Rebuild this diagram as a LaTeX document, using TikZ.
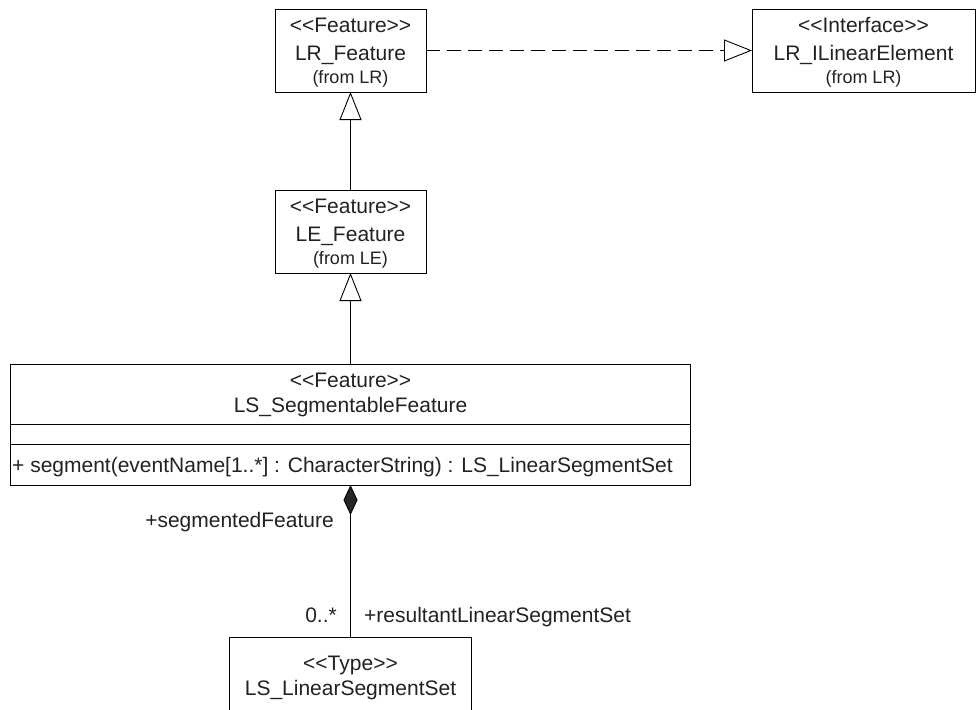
\documentclass[tikz,border=0pt]{standalone}
\usepackage{fontspec}
\setmainfont{Liberation Sans}
\usetikzlibrary{arrows.meta}
\definecolor{txt}{HTML}{222222}
\newcommand{\ster}[1]{<\kern0pt<#1>\kern0pt>}
\begin{document}
\begin{tikzpicture}[x=1pt,y=-1pt,
  umlbox/.style={draw=black, line width=0.9pt, inner sep=0pt, outer sep=0pt, rectangle},
  lbl/.style={font=\fontsize{21}{25}\selectfont, text=txt, inner sep=0pt, anchor=base},
  smalllbl/.style={font=\fontsize{18}{21}\selectfont, text=txt, inner sep=0pt, anchor=base},
  conn/.style={line width=0.9pt, draw=black},
  inherit/.style={conn, -{Triangle[open, length=28pt, width=22pt, line width=0.9pt]}},
  realize/.style={inherit, dash pattern=on 14pt off 7pt},
  compose/.style={conn, {Diamond[length=30pt, width=14pt, fill=black!85]}-}
]
\useasboundingbox (0,0) rectangle (976,709);

% LR_Feature
\node[umlbox, minimum width=151pt, minimum height=83pt] (lrf) at (350.5,50.5) {};
\node[lbl] (lrf1) at (350.5,32.5) {\ster{Feature}};
\node[lbl] (lrf2) at (350.5,60.5) {LR\_Feature};
\node[smalllbl] (lrf3) at (350.5,83.5) {(from LR)};

% LR_ILinearElement
\node[umlbox, minimum width=223pt, minimum height=83pt] (ile) at (863.5,50.5) {};
\node[lbl] (ile1) at (863.5,32.5) {\ster{Interface}};
\node[lbl] (ile2) at (863.5,60.5) {LR\_ILinearElement};
\node[smalllbl] (ile3) at (863.5,83.5) {(from LR)};

% LE_Feature
\node[umlbox, minimum width=151pt, minimum height=83pt] (lef) at (350.5,231.5) {};
\node[lbl] (lef1) at (350.5,213.5) {\ster{Feature}};
\node[lbl] (lef2) at (350.5,241.5) {LE\_Feature};
\node[smalllbl] (lef3) at (350.5,264.5) {(from LE)};

% LS_SegmentableFeature
\node[umlbox, minimum width=680pt, minimum height=121pt] (seg) at (350.5,424.5) {};
\draw[line width=0.9pt] (seg.west |- 0,424) -- (seg.east |- 0,424);
\draw[line width=0.9pt] (seg.west |- 0,444) -- (seg.east |- 0,444);
\node[lbl] (seg1) at (350.5,387.5) {\ster{Feature}};
\node[lbl] (seg2) at (350.5,412.5) {LS\_SegmentableFeature};
\node[lbl, anchor=base west] (seg3) at (12,472.5) {+ segment(eventName[1..*] : CharacterString) : LS\_LinearSegmentSet};

% LS_LinearSegmentSet
\node[umlbox, minimum width=242pt, minimum height=106pt] (lss) at (350.5,690) {};
\node[lbl] (lss1) at (350.5,670) {\ster{Type}};
\node[lbl] (lss2) at (350.5,695) {LS\_LinearSegmentSet};

% connectors
\draw[realize] (lrf.east) -- (ile.west);
\draw[inherit] (lef.north) -- (lrf.south);
\draw[inherit] (seg.north) -- (lef.south);
\draw[compose] (seg.south) -- (lss.north);

% role labels
\node[lbl, anchor=base east] (sf) at (334,527) {+segmentedFeature};
\node[lbl, anchor=base east] (m0) at (337,622) {0..*};
\node[lbl, anchor=base west] (rl) at (364,622) {+resultantLinearSegmentSet};
\end{tikzpicture}
\end{document}
